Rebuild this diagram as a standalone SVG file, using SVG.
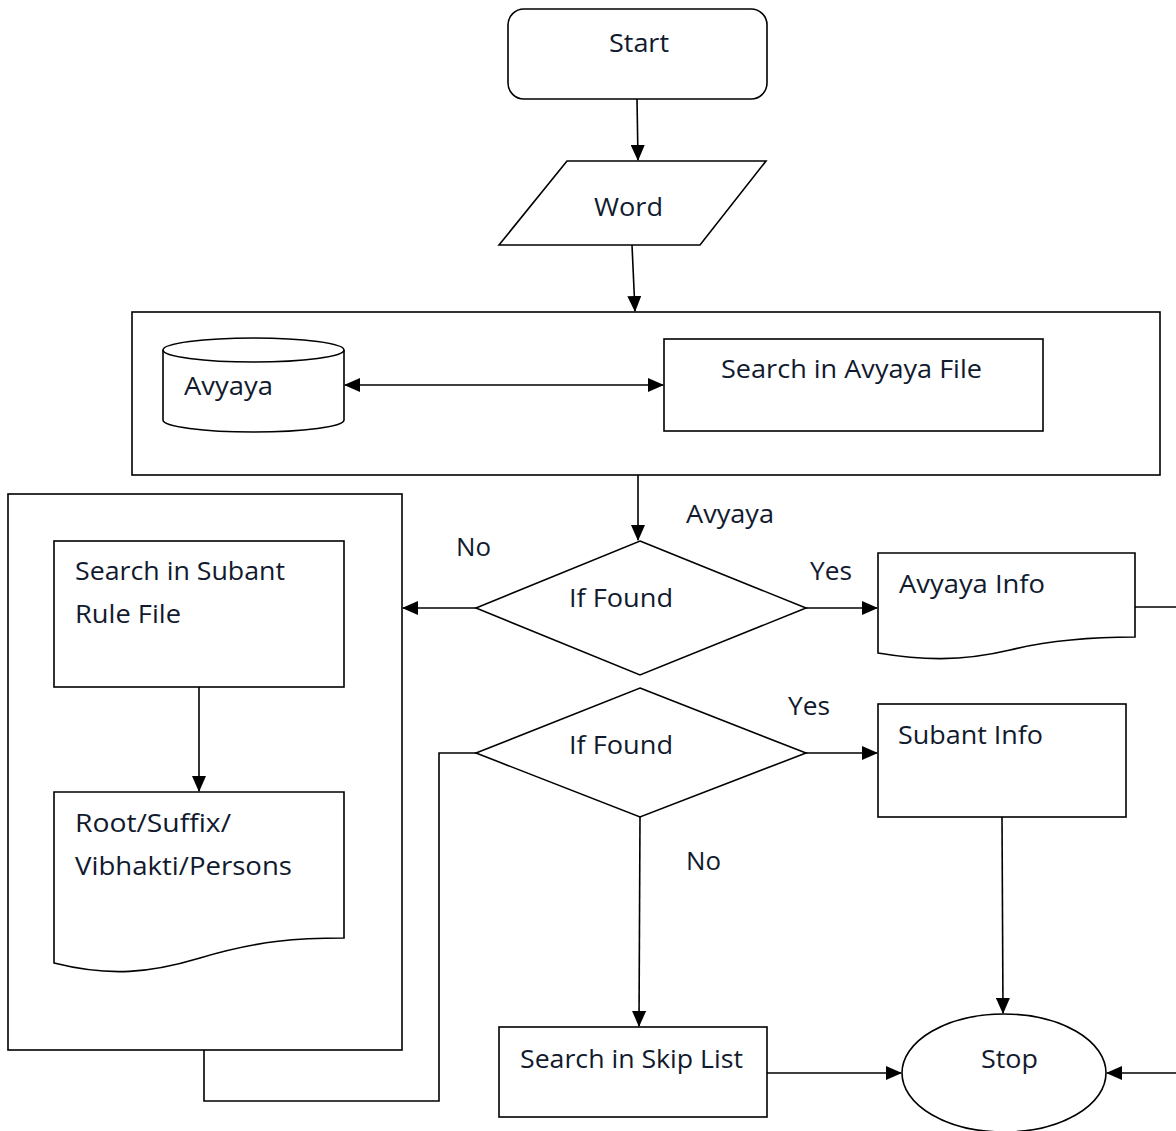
<svg xmlns="http://www.w3.org/2000/svg" width="1176" height="1131" viewBox="0 0 1176 1131">
<style>
.s{fill:#fff;stroke:#000;stroke-width:1.6}
.c{fill:none;stroke:#000;stroke-width:1.6}
.t{font-family:"Open Sans","Noto Sans",sans-serif;font-size:26px;fill:#111a2e}
</style>
<defs>
<marker id="a" markerWidth="16" markerHeight="14" refX="15" refY="7" orient="auto" markerUnits="userSpaceOnUse">
<path d="M0,0 L16,7 L0,14 z" fill="#000"/>
</marker>
<marker id="b" markerWidth="16" markerHeight="14" refX="1" refY="7" orient="auto" markerUnits="userSpaceOnUse">
<path d="M16,0 L0,7 L16,14 z" fill="#000"/>
</marker>
</defs>
<g id="start"><rect class="s" x="508" y="9" width="259" height="90" rx="16"/><text class="t" x="609" y="52" textLength="60" lengthAdjust="spacingAndGlyphs">Start</text></g>
<g id="word"><polygon class="s" points="567,161 766,161 700,245 499,245"/><text class="t" x="594" y="216" textLength="69" lengthAdjust="spacingAndGlyphs">Word</text></g>
<g id="avyaya-box"><rect class="s" x="132" y="312" width="1028" height="163"/></g>
<g id="avyaya-db"><path class="s" d="M163,350 L163,420 A90.5,12 0 0 0 344,420 L344,350 A90.5,12 0 0 0 163,350 Z"/><path class="c" d="M163,350 A90.5,12 0 0 0 344,350"/><text class="t" x="184" y="395" textLength="89" lengthAdjust="spacingAndGlyphs">Avyaya</text></g>
<g id="search-avyaya"><rect class="s" x="664" y="339" width="379" height="92"/><text class="t" x="721" y="378" textLength="261" lengthAdjust="spacingAndGlyphs">Search in Avyaya File</text></g>
<g id="subant-box"><rect class="s" x="8" y="494" width="394" height="556"/></g>
<g id="search-subant"><rect class="s" x="54" y="541" width="290" height="146"/><text class="t" x="75" y="580" textLength="210" lengthAdjust="spacingAndGlyphs">Search in Subant</text><text class="t" x="75" y="623" textLength="106" lengthAdjust="spacingAndGlyphs">Rule File</text></g>
<g id="root-suffix"><path class="s" d="M54,792 L344,792 L344,938 C300,938 260,940 200,958 C150,973 110,977 54,963 Z"/><text class="t" x="75" y="832" textLength="156" lengthAdjust="spacingAndGlyphs">Root/Suffix/</text><text class="t" x="75" y="875" textLength="217" lengthAdjust="spacingAndGlyphs">Vibhakti/Persons</text></g>
<g id="if-found-1"><polygon class="s" points="640,541 806,608 640,675 476,608"/><text class="t" x="569" y="607" textLength="104" lengthAdjust="spacingAndGlyphs">If Found</text></g>
<g id="avyaya-info"><path class="s" d="M878,553 L1135,553 L1135,637 C1090,637 1050,640 1010,650 C960,662 920,660 878,653 Z"/><text class="t" x="899" y="593" textLength="146" lengthAdjust="spacingAndGlyphs">Avyaya Info</text></g>
<g id="if-found-2"><polygon class="s" points="640,688 806,753 640,817 476,753"/><text class="t" x="569" y="754" textLength="104" lengthAdjust="spacingAndGlyphs">If Found</text></g>
<g id="subant-info"><rect class="s" x="878" y="704" width="248" height="113"/><text class="t" x="898" y="744" textLength="145" lengthAdjust="spacingAndGlyphs">Subant Info</text></g>
<g id="skip-list"><rect class="s" x="499" y="1027" width="268" height="90"/><text class="t" x="520" y="1068" textLength="223" lengthAdjust="spacingAndGlyphs">Search in Skip List</text></g>
<g id="stop"><ellipse class="s" cx="1004" cy="1073" rx="102" ry="59"/><text class="t" x="981" y="1068" textLength="57" lengthAdjust="spacingAndGlyphs">Stop</text></g>
<g id="connectors">
<path class="c" d="M637,99 L638,160" marker-end="url(#a)"/>
<path class="c" d="M632,245 L635,311" marker-end="url(#a)"/>
<path class="c" d="M345,385 L663,385" marker-start="url(#b)" marker-end="url(#a)"/>
<path class="c" d="M638,475 L638,540" marker-end="url(#a)"/>
<path class="c" d="M476,608 L403,608" marker-end="url(#a)"/>
<path class="c" d="M806,608 L877,608" marker-end="url(#a)"/>
<path class="c" d="M1135,607 L1176,607"/>
<path class="c" d="M199,687 L199,791" marker-end="url(#a)"/>
<path class="c" d="M204,1050 L204,1101 L439,1101 L439,753 L476,753"/>
<path class="c" d="M806,753 L877,753" marker-end="url(#a)"/>
<path class="c" d="M1002,817 L1003,1013" marker-end="url(#a)"/>
<path class="c" d="M640,817 L639,1026" marker-end="url(#a)"/>
<path class="c" d="M767,1073 L901,1073" marker-end="url(#a)"/>
<path class="c" d="M1176,1073 L1107,1073" marker-end="url(#a)"/>
</g>
<g id="labels">
<text class="t" x="686" y="523" textLength="88" lengthAdjust="spacingAndGlyphs">Avyaya</text>
<text class="t" x="456" y="556" textLength="35" lengthAdjust="spacingAndGlyphs">No</text>
<text class="t" x="810" y="580" textLength="42" lengthAdjust="spacingAndGlyphs">Yes</text>
<text class="t" x="788" y="715" textLength="42" lengthAdjust="spacingAndGlyphs">Yes</text>
<text class="t" x="686" y="870" textLength="35" lengthAdjust="spacingAndGlyphs">No</text>
</g>
</svg>
